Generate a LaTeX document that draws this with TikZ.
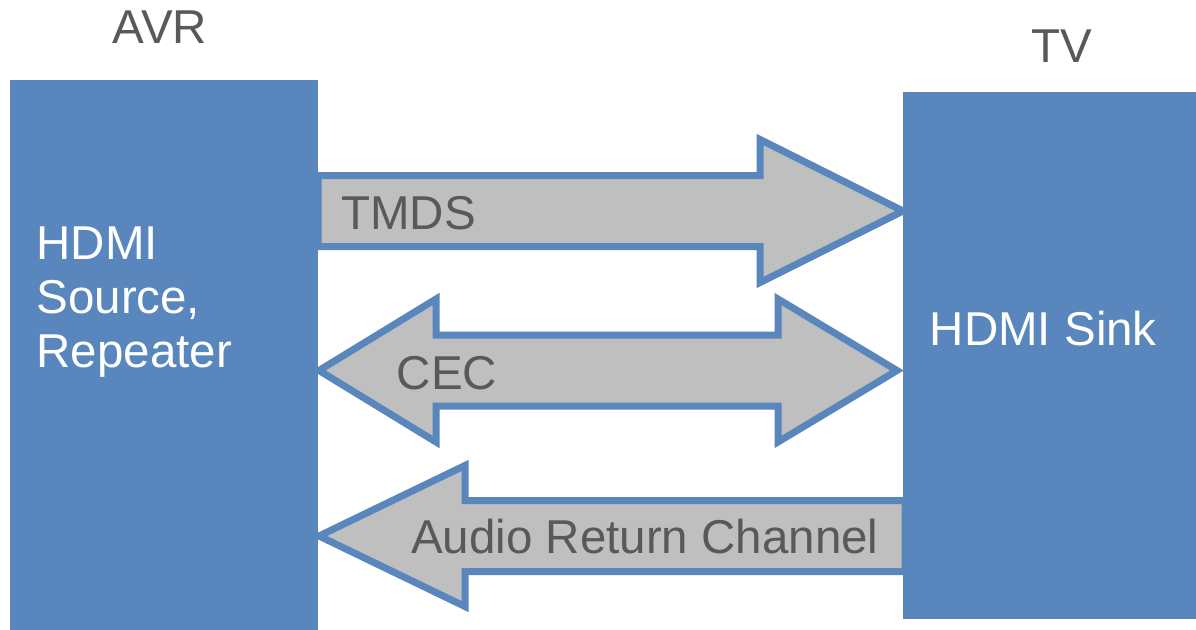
\documentclass[tikz,border=0pt]{standalone}
\usepackage{fontspec}
\setmainfont{Liberation Sans}
\definecolor{boxblue}{RGB}{88,134,189}
\definecolor{arrowgray}{RGB}{191,191,191}
\definecolor{txtgray}{RGB}{89,89,89}
\begin{document}
\begin{tikzpicture}[x=1pt,y=-1pt,
  blockarrow/.style={fill=arrowgray,draw=boxblue,line width=7pt,line join=miter},
  device/.style={fill=boxblue,draw=none,inner sep=0,anchor=north west},
  lbl/.style={inner sep=0,anchor=base west,text=txtgray,font=\fontsize{47.5}{54}\selectfont},
  title/.style={inner sep=0,anchor=base,text=txtgray,font=\fontsize{47.5}{54}\selectfont},
  inlbl/.style={inner sep=0,anchor=base west,text=white,font=\fontsize{47.5}{54}\selectfont}]
\useasboundingbox[fill=white] (0,0) rectangle (1196,629);

% block arrows
\draw[blockarrow] (318,175.5) -- (760,175.5) -- (760,139.5) -- (903,211)
  -- (760,282.5) -- (760,246.5) -- (318,246.5) -- cycle;
\draw[blockarrow] (319,370.5) -- (436,299) -- (436,335) -- (778,335) -- (778,299)
  -- (897,370.5) -- (778,442) -- (778,406) -- (436,406) -- (436,442) -- cycle;
\draw[blockarrow] (319,536) -- (465,465.5) -- (465,500.5) -- (905,500.5)
  -- (905,571.5) -- (465,571.5) -- (465,606.5) -- cycle;

% devices
\node[device,minimum width=308,minimum height=560] (avr) at (10,80) {};
\node[device,minimum width=300,minimum height=527] (tv) at (903,92) {};

% titles
\node[title] (avrlbl) at (160,43.3) {AVR};
\node[title] (tvlbl) at (1062,62.3) {TV};

% device labels
\node[inlbl] (src1) at (36.3,259.5) {HDMI};
\node[inlbl] (src2) at (36.3,313) {Source,};
\node[inlbl] (src3) at (36.3,367) {Repeater};
\node[inlbl] (sink) at (929.6,345) {HDMI Sink};

% arrow labels
\node[lbl] (tmds) at (341,229.5) {TMDS};
\node[lbl] (cec) at (396.5,389) {CEC};
\node[lbl] (arc) at (411,553.3) {Audio Return Channel};
\end{tikzpicture}
\end{document}
